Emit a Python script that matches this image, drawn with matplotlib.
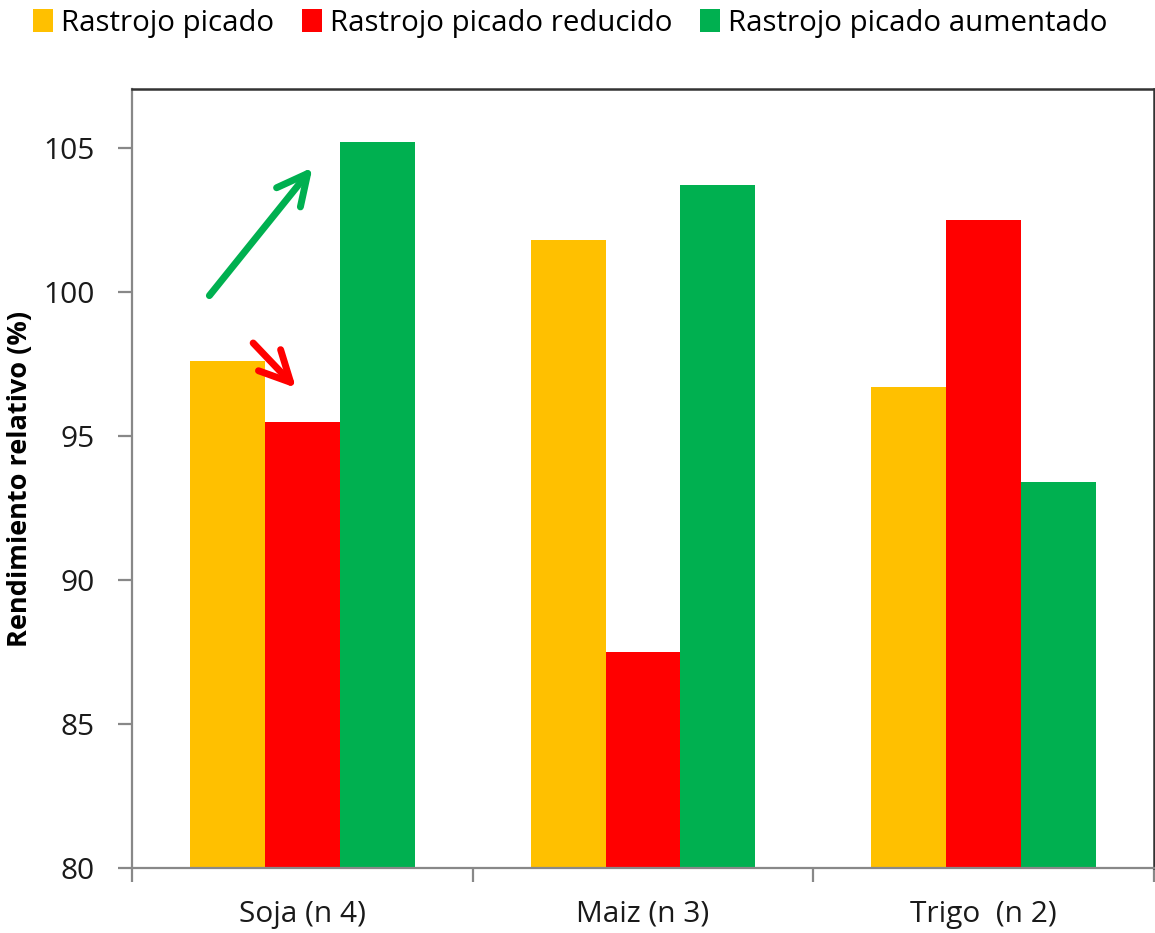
import matplotlib
matplotlib.use("Agg")
import matplotlib.pyplot as plt
import numpy as np
from matplotlib.patches import Patch

plt.rcParams['font.family'] = ['Open Sans', 'DejaVu Sans']

categories = ["Soja (n 4)", "Maiz (n 3)", "Trigo  (n 2)"]
series_names = ["Rastrojo picado", "Rastrojo picado reducido", "Rastrojo picado aumentado"]
picado = [97.6, 101.8, 96.7]
reducido = [95.5, 87.5, 102.5]
aumentado = [105.2, 103.7, 93.4]
colors = ["#FFC000", "#FF0000", "#00B050"]
y_ticks = [80, 85, 90, 95, 100, 105]

fig = plt.figure(figsize=(11.55, 9.33), dpi=100)
ax = fig.add_axes([132/1155, 1-868/933, (1154-132)/1155, (868-89)/933])

x = np.arange(len(categories))
w = 0.22
for i, (vals, col) in enumerate(zip([picado, reducido, aumentado], colors)):
    ax.bar(x + (i - 1) * w, vals, width=w, color=col, bottom=0, zorder=2)

ax.set_xlim(-0.5, 2.5)
ax.set_ylim(80, 107.05)
ax.set_yticks(y_ticks)
ax.set_yticklabels([str(t) for t in y_ticks], fontsize=21.5, color='#1a1a1a')
ax.set_xticks(x)
ax.set_xticklabels(categories, fontsize=21.5, color='#1a1a1a')
ax.set_xticks(np.arange(-0.5, 3.0, 1.0), minor=True)
ax.tick_params(axis='x', which='major', length=0, pad=23)
ax.tick_params(axis='x', which='minor', length=10, width=1.6, color='#888888', direction='out')
ax.tick_params(axis='y', which='major', length=10, width=1.6, color='#888888', direction='out', pad=17)

for s in ['left', 'bottom']:
    ax.spines[s].set_color('#888888')
    ax.spines[s].set_linewidth(1.6)
for s in ['top', 'right']:
    ax.spines[s].set_color('#333333')
    ax.spines[s].set_linewidth(1.8)

ax.set_ylabel("Rendimiento relativo (%)", fontsize=19.5, fontweight='bold')
ax.yaxis.set_label_coords(-0.097, 0.5)

# Trend arrows for Soja
arrow_style = "->,head_length=2.2,head_width=1.1"
ax.annotate("", xy=(0.035, 104.4), xytext=(-0.278, 99.8),
            arrowprops=dict(arrowstyle=arrow_style, color="#00B050",
                            lw=5.0, joinstyle='round', capstyle='round'))
ax.annotate("", xy=(-0.013, 96.6), xytext=(-0.15, 98.3),
            arrowprops=dict(arrowstyle=arrow_style, color="#FF0000",
                            lw=5.0, joinstyle='round', capstyle='round'))

handles = [Patch(facecolor=c, edgecolor='none') for c in colors]
fig.legend(handles, series_names, loc='upper left', bbox_to_anchor=(30/1155, 1 - 6/933),
           ncol=3, frameon=False, fontsize=21.2, handlelength=0.68, handleheight=0.8,
           handletextpad=0.27, columnspacing=0.95, borderaxespad=0.1, borderpad=0.0)

fig.savefig("out.png", dpi=100)
